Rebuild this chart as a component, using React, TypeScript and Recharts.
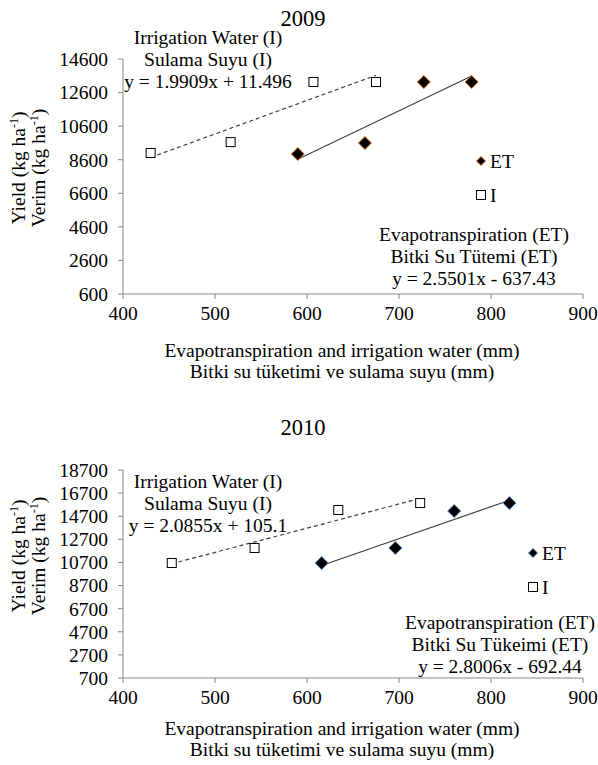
import { ScatterChart, Scatter, XAxis, YAxis } from 'recharts'

const FONT = "'Liberation Serif', 'Times New Roman', serif"
const FS = 19.5

// 2009
const irr09X = [430, 517, 607, 675]
const irr09Y = [9000, 9650, 13230, 13230]
const et09X = [590, 663, 727, 779]
const et09Y = [8940, 9595, 13230, 13230]
const yTicks09 = [600, 2600, 4600, 6600, 8600, 10600, 12600, 14600]

// 2010
const irr10X = [453, 543, 634, 723]
const irr10Y = [10650, 11950, 15240, 15840]
const et10X = [616, 696, 760, 820]
const et10Y = [10650, 11950, 15150, 15840]
const yTicks10 = [700, 2700, 4700, 6700, 8700, 10700, 12700, 14700, 16700, 18700]

const xTicks = [400, 500, 600, 700, 800, 900]

const pts = (xs: number[], ys: number[]) => xs.map((x, i) => ({ x, y: ys[i] }))

// linear least squares, evaluated at the first and last x
const fit = (xs: number[], ys: number[]) => {
  const n = xs.length
  const mx = xs.reduce((a, b) => a + b, 0) / n
  const my = ys.reduce((a, b) => a + b, 0) / n
  let sxy = 0
  let sxx = 0
  xs.forEach((x, i) => {
    sxy += (x - mx) * (ys[i] - my)
    sxx += (x - mx) * (x - mx)
  })
  const b = sxy / sxx
  const a = my - b * mx
  const lo = Math.min(...xs)
  const hi = Math.max(...xs)
  return [
    { x: lo, y: a + b * lo },
    { x: hi, y: a + b * hi },
  ]
}

const Diamond = (stroke: string) => (props: any) => {
  const { cx, cy } = props
  const r = 6.5
  return (
    <polygon
      points={`${cx},${cy - r} ${cx + r},${cy} ${cx},${cy + r} ${cx - r},${cy}`}
      fill="#000"
      stroke={stroke}
      strokeWidth={1}
    />
  )
}

const Square = (props: any) => {
  const { cx, cy } = props
  return <rect x={cx - 4.5} y={cy - 4.5} width={9} height={9} fill="#fff" stroke="#000" strokeWidth={1} />
}

const NoDot = () => <g />

const Sup = () => (
  <tspan baselineShift="super" fontSize={12}>
    -1
  </tspan>
)

const tickStyle = { fill: '#000', fontSize: FS, fontFamily: FONT }

const Panel = ({
  irr,
  et,
  yTicks,
  height,
  top,
  xAxisH,
  edge,
}: {
  irr: { x: number; y: number }[]
  et: { x: number; y: number }[]
  yTicks: number[]
  height: number
  top: number
  xAxisH: number
  edge: string
}) => (
  <ScatterChart width={598} height={height} margin={{ top, right: 15, bottom: 0, left: 0 }}>
    <XAxis
      type="number"
      dataKey="x"
      domain={[400, 900]}
      ticks={xTicks}
      height={xAxisH}
      stroke="#868686"
      tickSize={5}
      tickMargin={7}
      tick={tickStyle}
    />
    <YAxis
      type="number"
      dataKey="y"
      domain={[yTicks[0], yTicks[yTicks.length - 1]]}
      ticks={yTicks}
      width={123}
      stroke="#868686"
      tickSize={5}
      tickMargin={10}
      interval={0}
      tick={tickStyle}
    />
    <Scatter data={fit(irr.map((p) => p.x), irr.map((p) => p.y))} line={{ stroke: '#404040', strokeWidth: 1.2, strokeDasharray: '4 3' }} shape={NoDot} isAnimationActive={false} />
    <Scatter data={fit(et.map((p) => p.x), et.map((p) => p.y))} line={{ stroke: '#404040', strokeWidth: 1.2 }} shape={NoDot} isAnimationActive={false} />
    <Scatter data={irr} shape={Square} isAnimationActive={false} />
    <Scatter data={et} shape={Diamond(edge)} isAnimationActive={false} />
  </ScatterChart>
)

const Notes = ({
  year,
  yearY,
  irrY,
  irrEq,
  etName,
  etEq,
  etX,
  etY,
  legX,
  legY,
  yMid,
  edge,
}: any) => (
  <g fontFamily={FONT} fill="#000">
    <text x={303} y={yearY} fontSize={22.5} textAnchor="middle">
      {year}
    </text>
    <g fontSize={FS} textAnchor="middle">
      <text x={208} y={irrY}>Irrigation  Water (I)</text>
      <text x={208} y={irrY + 22}>Sulama  Suyu (I)</text>
      <text x={208} y={irrY + 44}>{irrEq}</text>
      <text x={etX} y={etY}>Evapotranspiration (ET)</text>
      <text x={etX} y={etY + 22}>{etName}</text>
      <text x={etX} y={etY + 44}>{etEq}</text>
    </g>
    <g fontSize={FS}>
      <polygon
        points={`${legX},${legY - 4.5} ${legX + 4.5},${legY} ${legX},${legY + 4.5} ${legX - 4.5},${legY}`}
        fill="#000"
        stroke={edge}
      />
      <text x={legX + 9} y={legY + 6.5}>ET</text>
      <rect x={legX - 4.5} y={legY + 29.5} width={9} height={9} fill="#fff" stroke="#000" />
      <text x={legX + 9} y={legY + 40.5}>I</text>
    </g>
    <g fontSize={FS} textAnchor="middle">
      <text transform={`translate(25, ${yMid}) rotate(-90)`}>
        Yield  (kg  ha<Sup />)
      </text>
      <text transform={`translate(45, ${yMid}) rotate(-90)`}>
        Verim  (kg ha<Sup />)
      </text>
    </g>
  </g>
)

const XTitle = ({ y }: { y: number }) => (
  <g fontFamily={FONT} fontSize={FS} textAnchor="middle" fill="#000">
    <text x={342} y={y}>Evapotranspiration and irrigation  water (mm)</text>
    <text x={342} y={y + 21}>Bitki  su tüketimi  ve sulama suyu (mm)</text>
  </g>
)

export default function App() {
  return (
    <div style={{ position: 'absolute', left: 0, top: 0, width: 598, height: 765, background: '#fff', overflow: 'hidden' }}>
      <div style={{ position: 'absolute', left: 0, top: 0 }}>
        <Panel irr={pts(irr09X, irr09Y)} et={pts(et09X, et09Y)} yTicks={yTicks09} height={392} top={59} xAxisH={98} edge="#e46c0a" />
      </div>
      <div style={{ position: 'absolute', left: 0, top: 392 }}>
        <Panel irr={pts(irr10X, irr10Y)} et={pts(et10X, et10Y)} yTicks={yTicks10} height={373} top={78} xAxisH={87} edge="#4f81bd" />
      </div>
      <svg width={598} height={765} style={{ position: 'absolute', left: 0, top: 0, pointerEvents: 'none' }}>
        <Notes
          year="2009"
          yearY={26}
          irrY={44}
          irrEq="y = 1.9909x + 11.496"
          etName="Bitki  Su Tütemi (ET)"
          etEq="y = 2.5501x - 637.43"
          etX={474}
          etY={241}
          legX={481}
          legY={161}
          yMid={168}
          edge="#e46c0a"
        />
        <XTitle y={357} />
        <Notes
          year="2010"
          yearY={435}
          irrY={488}
          irrEq="y = 2.0855x + 105.1"
          etName="Bitki  Su Tükeimi  (ET)"
          etEq="y = 2.8006x - 692.44"
          etX={500}
          etY={629}
          legX={533}
          legY={553}
          yMid={556}
          edge="#4f81bd"
        />
        <XTitle y={735} />
      </svg>
    </div>
  )
}
